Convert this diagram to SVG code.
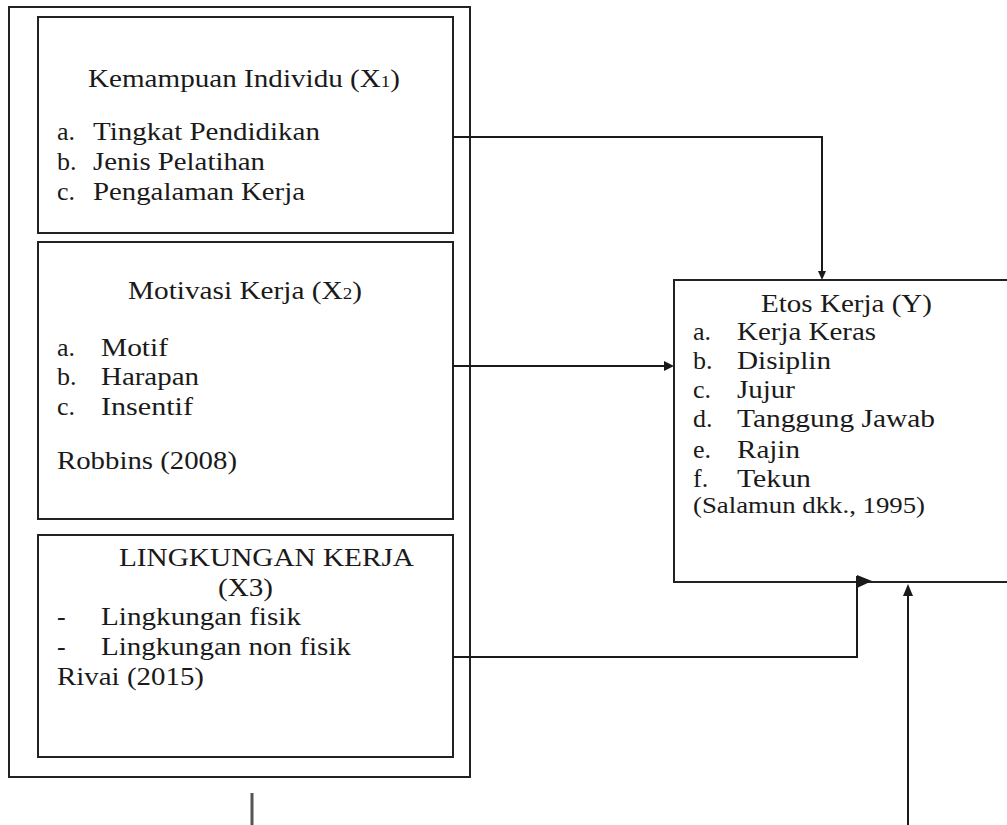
<svg xmlns="http://www.w3.org/2000/svg" width="1007" height="825" viewBox="0 0 1007 825">
<style>
.box{fill:#fff;stroke:#222;stroke-width:2}
.t{font-family:"Liberation Serif","Times New Roman",serif;font-size:26px;fill:#1a1a1a}
.s{font-size:23px}
.ln{fill:none;stroke:#1a1a1a;stroke-width:2}
.ah{fill:#1a1a1a}
</style>
<rect width="1007" height="825" fill="#fff"/>
<g id="outer"><rect class="box" x="9" y="7" width="461" height="770"/></g>
<g id="x1">
<rect class="box" x="38" y="17" width="415" height="216"/>
<text class="t" x="88" y="87" textLength="312" lengthAdjust="spacingAndGlyphs">Kemampuan Individu (X<tspan font-size="17">1</tspan>)</text>
<text class="t" x="57" y="140">a.</text><text class="t" x="93" y="140" textLength="227" lengthAdjust="spacingAndGlyphs">Tingkat Pendidikan</text>
<text class="t" x="57" y="170">b.</text><text class="t" x="93" y="170" textLength="172" lengthAdjust="spacingAndGlyphs">Jenis Pelatihan</text>
<text class="t" x="57" y="200">c.</text><text class="t" x="93" y="200" textLength="212" lengthAdjust="spacingAndGlyphs">Pengalaman Kerja</text>
</g>
<g id="x2">
<rect class="box" x="38" y="242" width="415" height="277"/>
<text class="t" x="128" y="299" textLength="234" lengthAdjust="spacingAndGlyphs">Motivasi Kerja (X<tspan font-size="17">2</tspan>)</text>
<text class="t" x="57" y="356">a.</text><text class="t" x="101" y="356" textLength="67" lengthAdjust="spacingAndGlyphs">Motif</text>
<text class="t" x="57" y="385">b.</text><text class="t" x="101" y="385" textLength="98" lengthAdjust="spacingAndGlyphs">Harapan</text>
<text class="t" x="57" y="415">c.</text><text class="t" x="101" y="415" textLength="92" lengthAdjust="spacingAndGlyphs">Insentif</text>
<text class="t" x="57" y="469" textLength="180" lengthAdjust="spacingAndGlyphs">Robbins (2008)</text>
</g>
<g id="x3">
<rect class="box" x="38" y="535" width="415" height="222"/>
<text class="t" x="119" y="566" textLength="295" lengthAdjust="spacingAndGlyphs">LINGKUNGAN KERJA</text>
<text class="t" x="218" y="596" textLength="55" lengthAdjust="spacingAndGlyphs">(X3)</text>
<text class="t" x="57" y="625">-</text><text class="t" x="101" y="625" textLength="200" lengthAdjust="spacingAndGlyphs">Lingkungan fisik</text>
<text class="t" x="57" y="655">-</text><text class="t" x="101" y="655" textLength="250" lengthAdjust="spacingAndGlyphs">Lingkungan non fisik</text>
<text class="t" x="57" y="685" textLength="147" lengthAdjust="spacingAndGlyphs">Rivai (2015)</text>
</g>
<g id="y">
<rect class="box" x="674" y="280" width="340" height="302"/>
<text class="t" x="761" y="312" textLength="171" lengthAdjust="spacingAndGlyphs">Etos Kerja (Y)</text>
<text class="t" x="693" y="340">a.</text><text class="t" x="737" y="340" textLength="139" lengthAdjust="spacingAndGlyphs">Kerja Keras</text>
<text class="t" x="693" y="369">b.</text><text class="t" x="737" y="369" textLength="94" lengthAdjust="spacingAndGlyphs">Disiplin</text>
<text class="t" x="693" y="398">c.</text><text class="t" x="737" y="398" textLength="58" lengthAdjust="spacingAndGlyphs">Jujur</text>
<text class="t" x="693" y="427">d.</text><text class="t" x="737" y="427" textLength="198" lengthAdjust="spacingAndGlyphs">Tanggung Jawab</text>
<text class="t" x="693" y="458">e.</text><text class="t" x="737" y="458" textLength="63" lengthAdjust="spacingAndGlyphs">Rajin</text>
<text class="t" x="693" y="487">f.</text><text class="t" x="737" y="487" textLength="74" lengthAdjust="spacingAndGlyphs">Tekun</text>
<text class="t s" x="693" y="513" textLength="232" lengthAdjust="spacingAndGlyphs">(Salamun dkk., 1995)</text>
</g>
<g id="connectors">
<path class="ln" d="M453,137 H822 V272"/>
<polygon class="ah" points="818,271 826,271 822,280"/>
<path class="ln" d="M453,366 H666"/>
<polygon class="ah" points="664,361 674,366 664,371"/>
<path class="ln" d="M453,657 H857 V576"/>
<polygon class="ah" points="857,575 872,581 857,588"/>
<path class="ln" d="M908,825 V594"/>
<polygon class="ah" points="903,596 913,596 908,584"/>
<path d="M252,793 V825" stroke="#555" stroke-width="3" fill="none"/>
</g>
</svg>
